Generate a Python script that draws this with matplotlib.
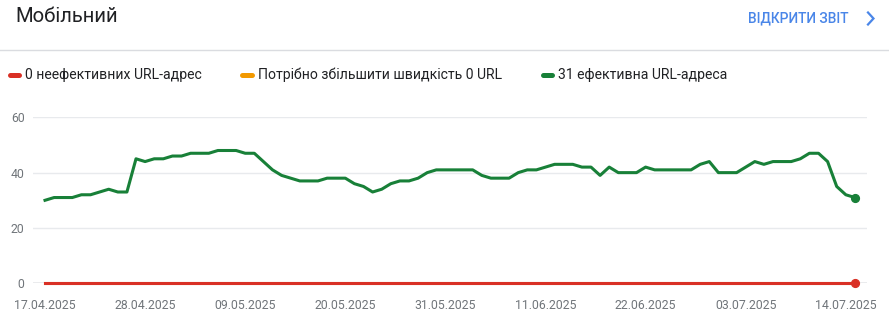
import matplotlib
matplotlib.use('Agg')
import matplotlib.pyplot as plt
import matplotlib.dates as mdates
from matplotlib.lines import Line2D
import pandas as pd

# data read from the Search Console "Mobile" Core Web Vitals card
start_date = '2025-04-17'
good_urls = [30, 31, 31, 31, 32, 32, 33, 34, 33, 33,
             45, 44, 45, 45, 46, 46, 47, 47, 47, 48,
             48, 48, 47, 47, 44, 41, 39, 38, 37, 37,
             37, 38, 38, 38, 36, 35, 33, 34, 36, 37,
             37, 38, 40, 41, 41, 41, 41, 41, 39, 38,
             38, 38, 40, 41, 41, 42, 43, 43, 43, 42,
             42, 39, 42, 40, 40, 40, 42, 41, 41, 41,
             41, 41, 43, 44, 40, 40, 40, 42, 44, 43,
             44, 44, 44, 45, 47, 47, 44, 35, 32, 31]
poor_urls = [0] * len(good_urls)
needs_work_urls = [0] * len(good_urls)
y_ticks = [0, 20, 40, 60]
tick_every_days = 11

title = 'Мобільний'
link_text = 'ВІДКРИТИ ЗВІТ'
legend_labels = ['0 неефективних URL-адрес',
                 'Потрібно збільшити швидкість 0 URL',
                 '31 ефективна URL-адреса']

RED = '#d93025'
ORANGE = '#f29900'
GREEN = '#188038'
BLUE = '#4a86e8'
GRID = '#e8eaed'
TICK_TXT = '#70757a'

W, H = 889, 318
plt.rcParams['font.family'] = ['Roboto', 'DejaVu Sans']

dates = pd.date_range(start_date, periods=len(good_urls), freq='D')

fig = plt.figure(figsize=(W / 100, H / 100), dpi=100)
fig.patch.set_facecolor('white')


def fx(px):
    return px / W


def fy(py):
    return 1 - py / H


# header
fig.text(fx(15), fy(17), title, fontsize=14.6, color='#202124', va='center', ha='left')
fig.text(fx(848), fy(18.5), link_text, fontsize=9.9, color=BLUE, va='center', ha='right',
         fontweight=500)
fig.add_artist(Line2D([fx(868), fx(873.5), fx(868)], [fy(12.5), fy(18.5), fy(24.5)],
                      color=BLUE, lw=1.6, solid_joinstyle='miter'))
fig.add_artist(Line2D([0, 1], [fy(49.5), fy(49.5)], color='#dadce0', lw=1))

# legend
legend_items = [(8, RED, legend_labels[0]), (241, ORANGE, legend_labels[1]),
                (541, GREEN, legend_labels[2])]
for x0, col, lab in legend_items:
    fig.add_artist(Line2D([fx(x0 + 1.5), fx(x0 + 10.5)], [fy(75), fy(75)], color=col, lw=3.6,
                          solid_capstyle='round'))
    fig.text(fx(x0 + 17), fy(75), lab, fontsize=10.1, color='#202124', va='center', ha='left')

# plot area
ax = fig.add_axes([fx(33), fy(283.3), fx(867 - 33), (283.3 - 117.3) / H])
ax.set_facecolor('white')
for s in ax.spines.values():
    s.set_visible(False)

ax.set_ylim(0, 60)
ax.set_yticks(y_ticks)
ax.grid(axis='y', color=GRID, lw=1)
ax.axhline(0, color='#9aa0a6', lw=1, zorder=1)
ax.tick_params(axis='both', length=0, labelsize=8.8, labelcolor=TICK_TXT)
ax.tick_params(axis='y', pad=6)
ax.tick_params(axis='x', pad=11)

ax.plot(dates, needs_work_urls, color=ORANGE, lw=2.2, zorder=2, clip_on=False)
ax.plot(dates, poor_urls, color=RED, lw=2.2, zorder=3, clip_on=False)
ax.plot(dates, good_urls, color=GREEN, lw=2.2, zorder=3, solid_joinstyle='round', clip_on=False)
ax.plot(dates[-1], poor_urls[-1], 'o', color=RED, ms=5.6, zorder=4, clip_on=False)
ax.plot(dates[-1], good_urls[-1], 'o', color=GREEN, ms=5.6, zorder=4, clip_on=False)

ax.set_xlim(dates[0] - pd.Timedelta(days=1.32), dates[0] + pd.Timedelta(days=90.33))
ax.set_xticks(dates[::tick_every_days])
ax.xaxis.set_major_formatter(mdates.DateFormatter('%d.%m.%Y'))

fig.savefig('out.png', dpi=100, facecolor='white')
